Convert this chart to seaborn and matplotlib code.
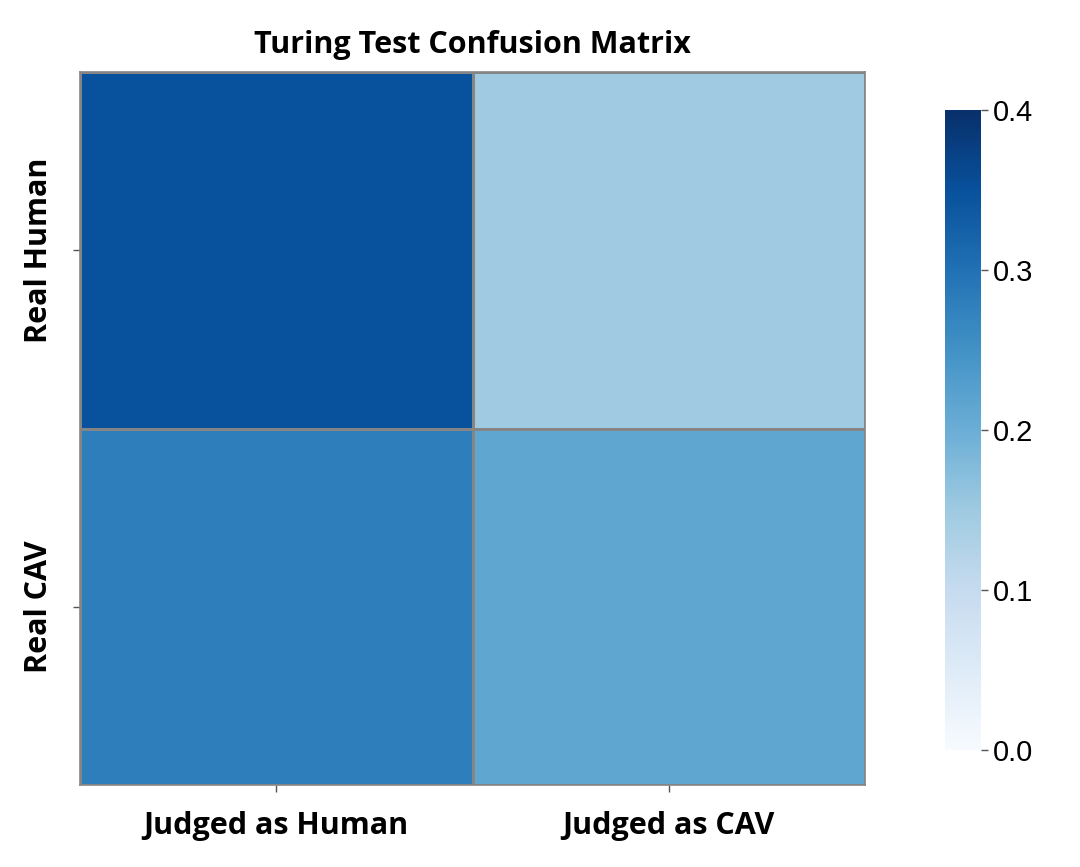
import matplotlib
matplotlib.use("Agg")
import matplotlib.pyplot as plt
import numpy as np
import pandas as pd
import seaborn as sns

# confusion matrix values (fractions of all trials)
row_labels = ["Real Human", "Real CAV"]
col_labels = ["Judged as Human", "Judged as CAV"]
judged_human = [0.35, 0.28]
judged_cav = [0.15, 0.215]
cbar_ticks = [0.0, 0.1, 0.2, 0.3, 0.4]

cm = pd.DataFrame({col_labels[0]: judged_human, col_labels[1]: judged_cav}, index=row_labels)

sns.set_style("white")
label_font = ["Open Sans", "DejaVu Sans"]

fig = plt.figure(figsize=(10.8, 8.67), dpi=100)
ax = fig.add_axes([80 / 1080, 1 - 785 / 867, 785 / 1080, 713 / 867])
cax = fig.add_axes([945 / 1080, 1 - 750 / 867, 36 / 1080, 640 / 867])

sns.heatmap(cm, ax=ax, cbar_ax=cax, cmap="Blues", vmin=0, vmax=0.4,
            linewidths=0.8, linecolor="#858585",
            cbar_kws={"ticks": cbar_ticks})

for side in ax.spines.values():
    side.set_visible(True)
    side.set_color("#858585")
    side.set_linewidth(1.2)

ax.tick_params(axis="both", length=5, width=1, color="#555555", bottom=True, left=True, pad=14)
ax.set_xticklabels(col_labels, fontsize=22, fontweight="bold", family=label_font, color="black")
ax.set_yticklabels(row_labels, fontsize=22, fontweight="bold", family=label_font, color="black",
                   rotation=90, va="center")
ax.set_xlabel("")
ax.set_ylabel("")
ax.set_title("Turing Test Confusion Matrix", fontsize=22, fontweight="bold",
             family=label_font, color="black", pad=14)

cax.set_yticklabels(["%.1f" % t for t in cbar_ticks], fontsize=21,
                    family=["Liberation Sans", "DejaVu Sans"], color="black")
cax.tick_params(length=5, width=1, color="#555555")
for side in cax.spines.values():
    side.set_visible(False)

fig.savefig("out.png", dpi=100)
